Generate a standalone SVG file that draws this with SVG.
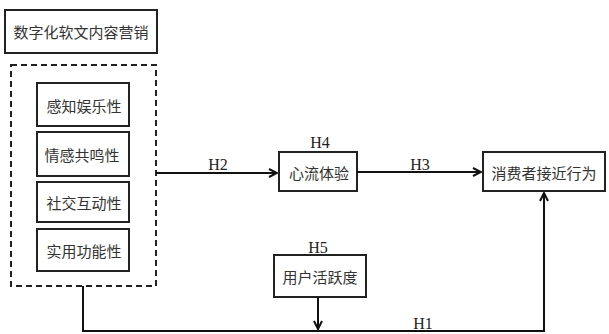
<svg xmlns="http://www.w3.org/2000/svg" width="609" height="334" viewBox="0 0 609 334">
<style>
.box{fill:#fff;stroke:#222;stroke-width:2}
.dash{fill:none;stroke:#222;stroke-width:2;stroke-dasharray:6,4}
.t{font-family:"Noto Sans CJK SC","Noto Sans",sans-serif;font-size:15px;fill:#333;text-anchor:middle;dominant-baseline:central}
.h{font-family:"Liberation Serif",serif;font-size:16px;fill:#222;text-anchor:middle}
.ln{fill:none;stroke:#111;stroke-width:2}
</style>
<defs>
<marker id="arr" viewBox="0 0 10 10" refX="9" refY="5" markerWidth="5" markerHeight="5" orient="auto" markerUnits="strokeWidth">
<path d="M1,1 L9,5 L1,9" fill="none" stroke="#111" stroke-width="2"/>
</marker>
</defs>
<rect width="609" height="334" fill="#fff"/>
<g id="title"><rect class="box" x="5" y="10" width="152" height="43"/><text class="t" x="81" y="31.5">数字化软文内容营销</text></g>
<g id="group"><rect class="dash" x="11" y="65" width="145" height="221"/></g>
<g id="n1"><rect class="box" x="37" y="83" width="92" height="43"/><text class="t" x="84" y="105">感知娱乐性</text></g>
<g id="n2"><rect class="box" x="37" y="132" width="92" height="44"/><text class="t" x="82" y="154">情感共鸣性</text></g>
<g id="n3"><rect class="box" x="37" y="182" width="92" height="40"/><text class="t" x="84" y="202">社交互动性</text></g>
<g id="n4"><rect class="box" x="37" y="229" width="92" height="42"/><text class="t" x="84" y="250">实用功能性</text></g>
<g id="flow"><rect class="box" x="279" y="152" width="78" height="39"/><text class="t" x="319" y="172">心流体验</text><text class="h" x="320" y="148">H4</text></g>
<g id="active"><rect class="box" x="274" y="255" width="92" height="42"/><text class="t" x="320" y="276">用户活跃度</text><text class="h" x="318" y="253">H5</text></g>
<g id="behavior"><rect class="box" x="483" y="152" width="122" height="39"/><text class="t" x="544" y="172">消费者接近行为</text></g>
<g id="connectors">
<path class="ln" d="M156,173 H277" marker-end="url(#arr)"/>
<text class="h" x="218" y="170">H2</text>
<path class="ln" d="M357,172 H481" marker-end="url(#arr)"/>
<text class="h" x="420" y="170">H3</text>
<path class="ln" d="M83,286 V331 H544 V193" marker-end="url(#arr)"/>
<text class="h" x="423" y="329">H1</text>
<path class="ln" d="M318,297 V329" marker-end="url(#arr)"/>
</g>
</svg>
